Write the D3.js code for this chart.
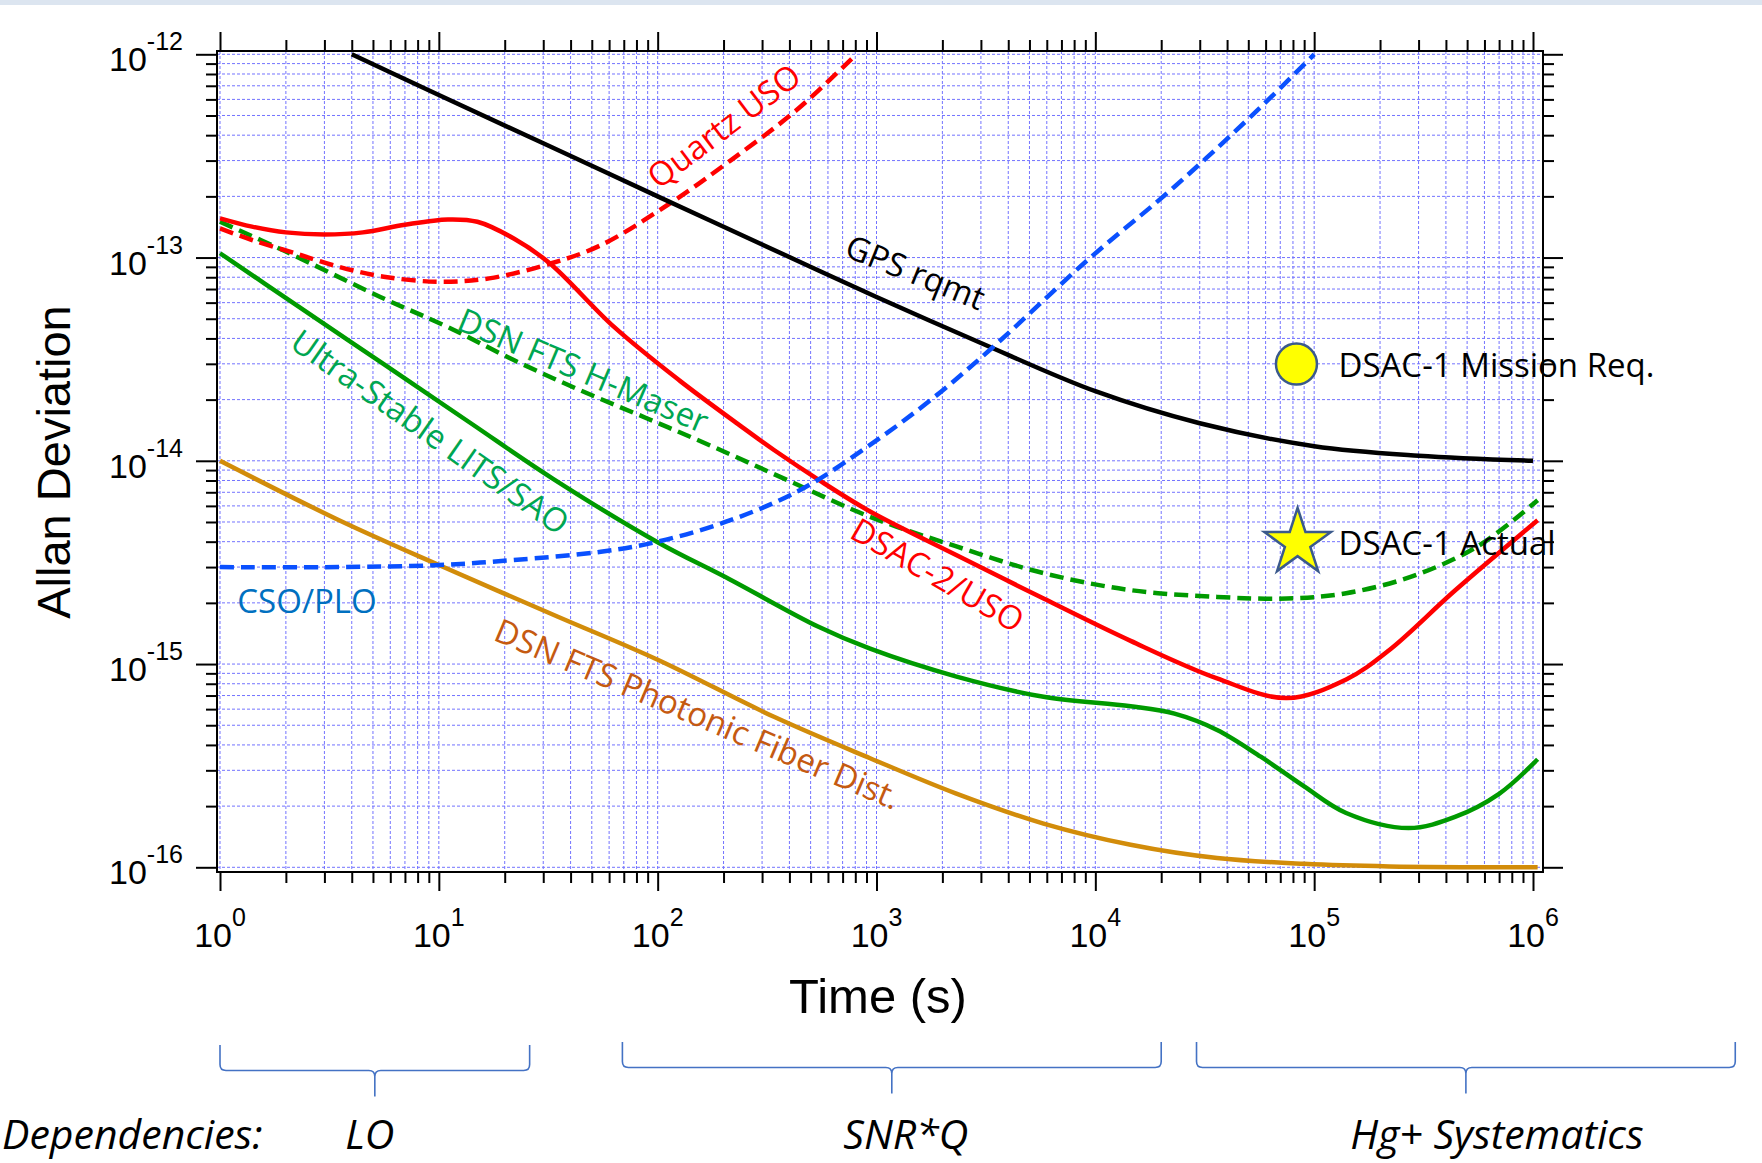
<!DOCTYPE html>
<html>
<head>
<meta charset="utf-8">
<script src="https://cdn.jsdelivr.net/npm/d3@7"></script>
<style>
  body { margin: 0; background: #fff; }
  svg { display: block; }
</style>
</head>
<body>
<div id="chart"></div>
<script>
// ---- series: averaging time tau (s) and Allan deviation ----
const gpsTau = [4, 10, 30, 100, 300, 1e3, 3e3, 1e4, 3e4, 1e5, 3e5, 1e6];
const gpsDev = [1.0e-12, 6.3e-13, 3.65e-13, 2.0e-13, 1.16e-13, 6.4e-14, 3.8e-14, 2.2e-14, 1.53e-14, 1.18e-14, 1.06e-14, 1.0e-14];

const quartzTau = [1, 1.4, 2.2, 3.5, 5.6, 10, 17, 33, 55, 114, 215, 430, 770];
const quartzDev = [1.39e-13, 1.22e-13, 1.05e-13, 9.0e-14, 8.05e-14, 7.6e-14, 7.9e-14, 9.4e-14, 1.15e-13, 1.85e-13, 3.0e-13, 5.3e-13, 9.5e-13];

const dsac2Tau = [1, 1.4, 2, 3, 4.5, 7, 11, 15, 22, 32, 63, 126, 238, 340, 560, 930, 2300, 5800, 1.45e4, 3.6e4, 7.5e4, 1.4e5, 2.2e5, 4.4e5, 1.05e6];
const dsac2Dev = [1.56e-13, 1.42e-13, 1.33e-13, 1.30e-13, 1.33e-13, 1.45e-13, 1.54e-13, 1.50e-13, 1.24e-13, 9.4e-14, 4.57e-14, 2.48e-14, 1.49e-14, 1.13e-14, 7.9e-15, 5.65e-15, 3.45e-15, 2.1e-15, 1.3e-15, 8.5e-16, 6.8e-16, 8.4e-16, 1.17e-15, 2.3e-15, 5.1e-15];

const maserTau = [1, 2, 5.4, 10.9, 22, 44, 89, 180, 390, 935, 2300, 5800, 1.45e4, 3.6e4, 7.5e4, 1.4e5, 2.8e5, 5.6e5, 1.05e6];
const maserDev = [1.5e-13, 1.07e-13, 6.4e-14, 4.57e-14, 3.13e-14, 2.23e-14, 1.62e-14, 1.17e-14, 8.05e-15, 5.3e-15, 3.8e-15, 2.8e-15, 2.31e-15, 2.14e-15, 2.1e-15, 2.23e-15, 2.7e-15, 3.8e-15, 6.4e-15];

const litsTau = [1, 2.2, 5.6, 14, 33, 99, 215, 540, 935, 2300, 5800, 1.45e4, 2.3e4, 3.6e4, 5.7e4, 9e4, 1.4e5, 2.7e5, 4.4e5, 7e5, 1.05e6];
const litsDev = [1.05e-13, 5.9e-14, 2.99e-14, 1.53e-14, 8.2e-15, 4.0e-15, 2.6e-15, 1.53e-15, 1.19e-15, 8.7e-16, 6.9e-16, 6.2e-16, 5.7e-16, 4.74e-16, 3.5e-16, 2.5e-16, 1.85e-16, 1.56e-16, 1.77e-16, 2.3e-16, 3.4e-16];

const fiberTau = [1, 3.5, 10, 35, 100, 340, 935, 2300, 5800, 1.45e4, 3.6e4, 9e4, 2.2e5, 1.05e6];
const fiberDev = [1.0e-14, 5.1e-15, 3.07e-15, 1.71e-15, 1.05e-15, 5.5e-16, 3.44e-16, 2.31e-16, 1.64e-16, 1.29e-16, 1.11e-16, 1.04e-16, 1.01e-16, 1.0e-16];

const csoTau = [1, 3.5, 10, 22, 55, 100, 215, 450, 1000, 1850, 3350, 9200, 2.3e4, 5.7e4, 1e5];
const csoDev = [3.0e-15, 3.0e-15, 3.07e-15, 3.25e-15, 3.57e-15, 4.0e-15, 5.1e-15, 7.2e-15, 1.26e-14, 2.07e-14, 3.57e-14, 9.7e-14, 2.23e-13, 5.5e-13, 1.0e-12];

// DSAC-1 points
const missionReq = [8.3e4, 2.99e-14];
const dsac1Actual = [8.4e4, 3.95e-15];

// dependency ranges along the time axis
const depLabels = ['LO', 'SNR*Q', 'Hg+ Systematics'];
const depFrom = [1, 69, 2.9e4];
const depTo = [26, 2.0e4, 8.4e6];

const W = 1762, H = 1163;
const frame = { left: 217, right: 1543, top: 51, bottom: 872 };
const tickFont = '"Liberation Sans", Arial, Helvetica, sans-serif';
const noteFont = '"Open Sans", "Noto Sans", sans-serif';

const svg = d3.select('#chart').append('svg').attr('width', W).attr('height', H);

svg.append('rect').attr('width', W).attr('height', H).attr('fill', '#fff');
svg.append('rect').attr('width', W).attr('height', 5).attr('fill', '#dce5f0');

const x = d3.scaleLog().domain([1, 1e6]).range([220, 1533]);
const y = d3.scaleLog().domain([1e-16, 1e-12]).range([867.3, 54.3]);

const isDecade = v => Math.abs(Math.log10(v) - Math.round(Math.log10(v))) < 1e-9;
const xTicks = x.ticks();
const yTicks = y.ticks();
const xMajor = xTicks.filter(isDecade);
const yMajor = yTicks.filter(isDecade);
const xMinor = xTicks.filter(v => !isDecade(v));
const yMinor = yTicks.filter(v => !isDecade(v));

// grid
const grid = svg.append('g').attr('stroke', '#7373ff').attr('stroke-width', 1).attr('stroke-dasharray', '3,2');
grid.selectAll('.gx').data(xTicks).enter().append('line')
    .attr('x1', d => x(d)).attr('x2', d => x(d))
    .attr('y1', frame.top).attr('y2', frame.bottom);
grid.selectAll('.gy').data(yTicks).enter().append('line')
    .attr('x1', frame.left).attr('x2', frame.right)
    .attr('y1', d => y(d)).attr('y2', d => y(d));

// axes (ticks only, frame drawn separately)
function ticks(axis, values, size, transform) {
    const g = svg.append('g').attr('transform', transform)
        .call(axis.tickValues(values).tickSize(size).tickFormat(''));
    g.select('.domain').remove();
    g.selectAll('line').attr('stroke', '#000').attr('stroke-width', 2);
}
ticks(d3.axisLeft(y), yMajor, 21, `translate(${frame.left},0)`);
ticks(d3.axisLeft(y), yMinor, 11, `translate(${frame.left},0)`);
ticks(d3.axisRight(y), yMajor, 20, `translate(${frame.right},0)`);
ticks(d3.axisRight(y), yMinor, 11, `translate(${frame.right},0)`);
ticks(d3.axisTop(x), xMajor, 19, `translate(0,${frame.top})`);
ticks(d3.axisTop(x), xMinor, 11, `translate(0,${frame.top})`);
ticks(d3.axisBottom(x), xMajor, 19, `translate(0,${frame.bottom})`);
ticks(d3.axisBottom(x), xMinor, 11, `translate(0,${frame.bottom})`);

svg.append('rect')
    .attr('x', frame.left).attr('y', frame.top)
    .attr('width', frame.right - frame.left).attr('height', frame.bottom - frame.top)
    .attr('fill', 'none').attr('stroke', '#000').attr('stroke-width', 2);

// tick labels 10^n
function powLabel(sel) {
    sel.append('tspan').attr('font-size', 34).text('10');
    sel.append('tspan').attr('font-size', 25).attr('dy', -21)
        .text(d => String(Math.round(Math.log10(d))));
}
svg.append('g').selectAll('text').data(xMajor).enter().append('text')
    .attr('x', d => x(d)).attr('y', 947)
    .attr('text-anchor', 'middle').attr('font-family', tickFont).attr('fill', '#000')
    .call(powLabel);
svg.append('g').selectAll('text').data(yMajor).enter().append('text')
    .attr('x', 183).attr('y', d => y(d) + 17)
    .attr('text-anchor', 'end').attr('font-family', tickFont).attr('fill', '#000')
    .call(powLabel);

// axis titles
svg.append('text').attr('x', 878).attr('y', 1013).attr('text-anchor', 'middle')
    .attr('font-family', tickFont).attr('font-size', 49).text('Time (s)');
svg.append('text').attr('transform', 'translate(70,462) rotate(-90)').attr('text-anchor', 'middle')
    .attr('font-family', tickFont).attr('font-size', 47).text('Allan Deviation');

// curves
const series = [
    { tau: fiberTau, dev: fiberDev, color: '#d28c0a', dash: null },
    { tau: litsTau, dev: litsDev, color: '#009a00', dash: null },
    { tau: maserTau, dev: maserDev, color: '#009a00', dash: '14,7' },
    { tau: quartzTau, dev: quartzDev, color: '#ff0000', dash: '14,7' },
    { tau: dsac2Tau, dev: dsac2Dev, color: '#ff0000', dash: null },
    { tau: gpsTau, dev: gpsDev, color: '#000000', dash: null },
    { tau: csoTau, dev: csoDev, color: '#0a50ff', dash: '14,7' }
];
const line = d3.line().x(d => x(d[0])).y(d => y(d[1])).curve(d3.curveCatmullRom.alpha(0.5));
svg.append('g').selectAll('path').data(series).enter().append('path')
    .attr('d', s => line(s.tau.map((t, i) => [t, s.dev[i]])))
    .attr('fill', 'none')
    .attr('stroke', s => s.color)
    .attr('stroke-width', 4.5)
    .attr('stroke-dasharray', s => s.dash);

// curve labels
const curveLabels = [
    { text: 'GPS rqmt', tau: 703, dev: 1.02e-13, angle: 22, color: '#000000' },
    { text: 'Quartz USO', tau: 101, dev: 2.15e-13, angle: -37, color: '#ff0000' },
    { text: 'DSN FTS H-Maser', tau: 11.9, dev: 4.45e-14, angle: 23, color: '#00a651' },
    { text: 'Ultra-Stable LITS/SAO', tau: 2.05, dev: 3.63e-14, angle: 35, color: '#00a651' },
    { text: 'DSAC-2/USO', tau: 741, dev: 4.22e-15, angle: 30, color: '#ff0000' },
    { text: 'CSO/PLO', tau: 1.2, dev: 1.78e-15, angle: 0, color: '#0070c0' },
    { text: 'DSN FTS Photonic Fiber Dist.', tau: 17.5, dev: 1.32e-15, angle: 23, color: '#c55a11' }
];
svg.append('g').selectAll('text').data(curveLabels).enter().append('text')
    .attr('transform', d => `translate(${x(d.tau)},${y(d.dev)}) rotate(${d.angle})`)
    .attr('font-family', noteFont).attr('font-size', 33)
    .attr('fill', d => d.color).text(d => d.text);

// DSAC-1 markers
svg.append('circle')
    .attr('cx', x(missionReq[0])).attr('cy', y(missionReq[1])).attr('r', 20.5)
    .attr('fill', '#ffff00').attr('stroke', '#3b5a8c').attr('stroke-width', 2.5);
svg.append('path')
    .attr('d', d3.symbol(d3.symbolStar, 35 * 35 / 0.8908130915292852)())
    .attr('transform', `translate(${x(dsac1Actual[0])},${y(dsac1Actual[1])})`)
    .attr('fill', '#ffff00').attr('stroke', '#3b5a8c').attr('stroke-width', 2.5);
svg.append('text').attr('x', x(missionReq[0]) + 42).attr('y', y(missionReq[1]) + 13)
    .attr('font-family', noteFont).attr('font-size', 33).text('DSAC-1 Mission Req.');
svg.append('text').attr('x', x(dsac1Actual[0]) + 41).attr('y', y(dsac1Actual[1]) + 12)
    .attr('font-family', noteFont).attr('font-size', 33).text('DSAC-1 Actual');

// dependency braces
function brace(x0, x1, yTop, yMid, yTip) {
    const xc = (x0 + x1) / 2, r = 6;
    return `M${x0},${yTop} L${x0},${yMid - r} Q${x0},${yMid} ${x0 + r},${yMid} L${xc - r},${yMid} ` +
        `Q${xc},${yMid} ${xc},${yMid + r} L${xc},${yTip} M${xc},${yMid + r} Q${xc},${yMid} ${xc + r},${yMid} ` +
        `L${x1 - r},${yMid} Q${x1},${yMid} ${x1},${yMid - r} L${x1},${yTop}`;
}
const braceTop = [1045, 1042, 1042];
const braceMid = [1070.5, 1067.5, 1067.5];
const labelShift = [-5, 14, 31];
depLabels.forEach((lab, i) => {
    const x0 = x(depFrom[i]), x1 = x(depTo[i]);
    svg.append('path').attr('d', brace(x0, x1, braceTop[i], braceMid[i], braceMid[i] + 26))
        .attr('fill', 'none').attr('stroke', '#4472c4').attr('stroke-width', 1.6);
    svg.append('text').attr('x', (x0 + x1) / 2 + labelShift[i]).attr('y', 1149)
        .attr('text-anchor', 'middle').attr('font-family', noteFont).attr('font-style', 'italic')
        .attr('font-size', 41).text(lab);
});
svg.append('text').attr('x', 2).attr('y', 1149)
    .attr('font-family', noteFont).attr('font-style', 'italic').attr('font-size', 41)
    .text('Dependencies:');
</script>
</body>
</html>
